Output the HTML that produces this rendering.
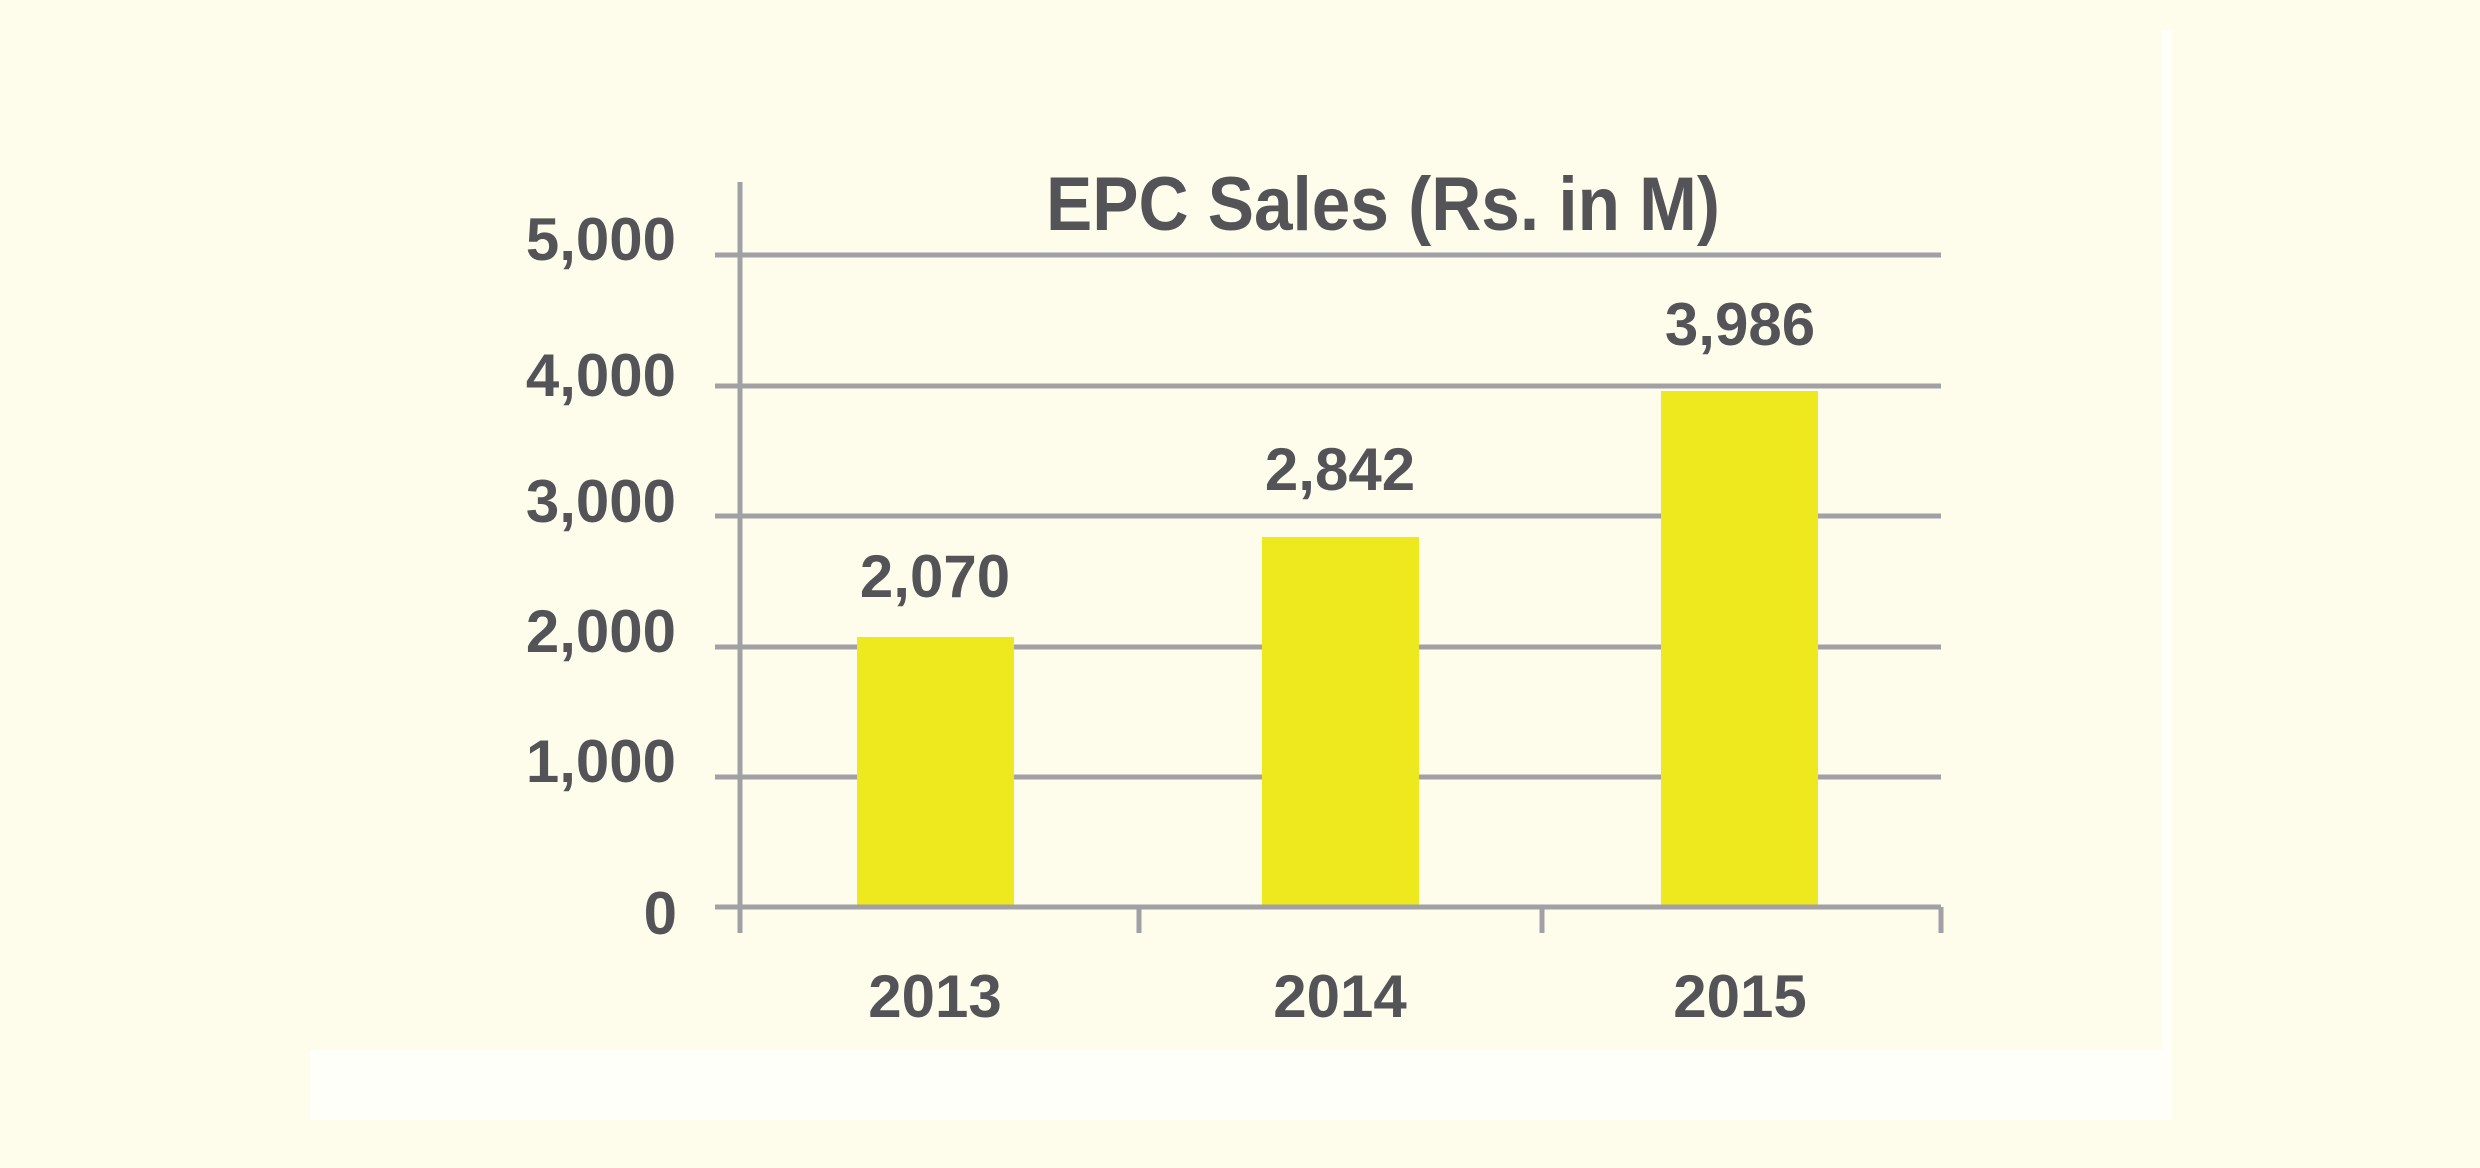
<!DOCTYPE html>
<html><head><meta charset="utf-8"><style>
html,body{margin:0;padding:0;background:#fefdeb;}
svg{display:block}
</style></head><body>
<svg width="2480" height="1168" viewBox="0 0 2480 1168" xmlns="http://www.w3.org/2000/svg">
<rect width="2480" height="1168" fill="#fefdeb"/>
<rect x="310" y="1050" width="1855" height="70" fill="#fffffa"/>
<rect x="2162" y="30" width="10" height="1090" fill="#fffffa"/>
<g stroke="#a0a0a5" stroke-width="5">
<line x1="715" y1="255" x2="1941" y2="255"/>
<line x1="715" y1="386" x2="1941" y2="386"/>
<line x1="715" y1="516" x2="1941" y2="516"/>
<line x1="715" y1="647" x2="1941" y2="647"/>
<line x1="715" y1="777" x2="1941" y2="777"/>
</g>
<g fill="#eee81e">
<rect x="857" y="637" width="157" height="270"/>
<rect x="1262" y="537" width="157" height="370"/>
<rect x="1661" y="391" width="157" height="516"/>
</g>
<g stroke="#a0a0a5" stroke-width="5">
<line x1="715" y1="907" x2="1941" y2="907"/>
<line x1="740" y1="182" x2="740" y2="933"/>
<line x1="1139" y1="907" x2="1139" y2="933"/>
<line x1="1542" y1="907" x2="1542" y2="933"/>
<line x1="1941" y1="907" x2="1941" y2="933"/>
</g>
<g font-family="Liberation Sans, sans-serif" font-weight="bold" fill="#545458" font-size="60">
<text x="1046" y="230" font-size="76" textLength="674" lengthAdjust="spacingAndGlyphs">EPC Sales (Rs. in M)</text>
<g text-anchor="end">
<text x="676" y="260">5,000</text>
<text x="676" y="396">4,000</text>
<text x="676" y="522">3,000</text>
<text x="676" y="652">2,000</text>
<text x="676" y="782">1,000</text>
<text x="677" y="934">0</text>
</g>
<g text-anchor="middle">
<text x="935" y="597">2,070</text>
<text x="1340" y="490">2,842</text>
<text x="1740" y="345">3,986</text>
<text x="935" y="1017">2013</text>
<text x="1340" y="1017">2014</text>
<text x="1740" y="1017">2015</text>
</g>
</g>
</svg>
</body></html>
